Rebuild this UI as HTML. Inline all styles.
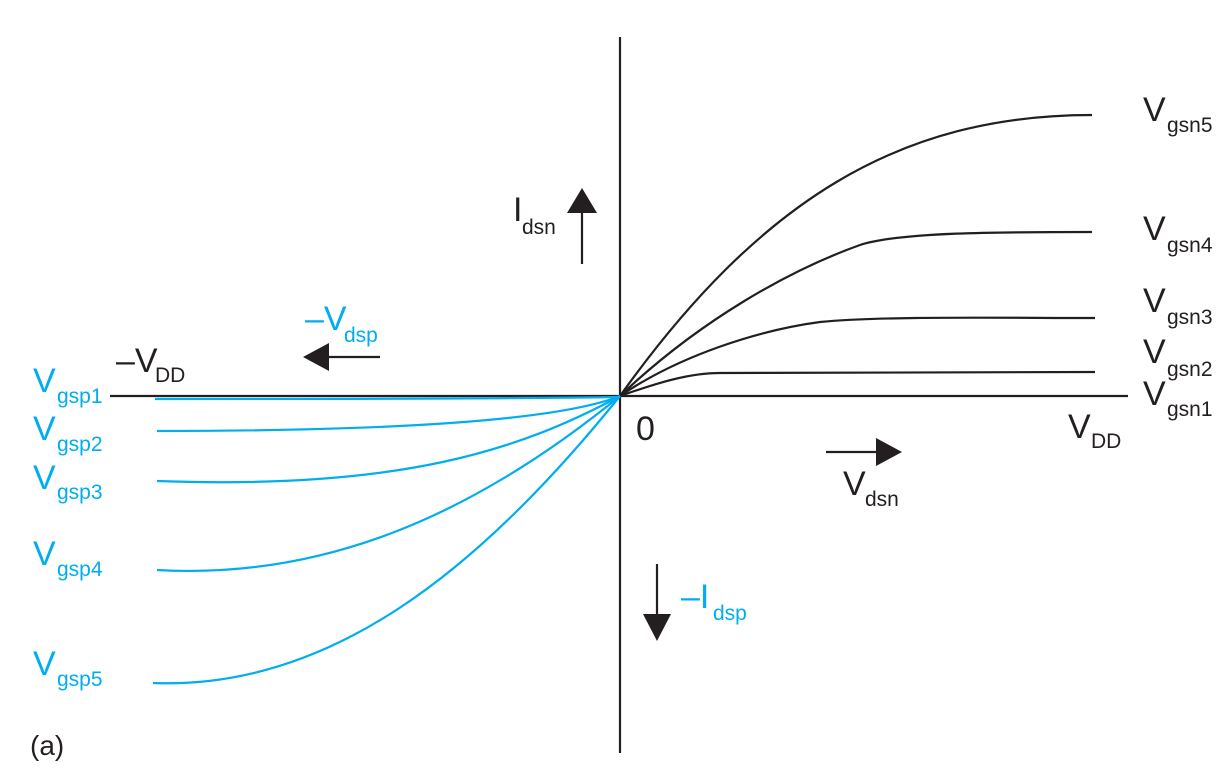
<!DOCTYPE html>
<html><head><style>
html,body{margin:0;padding:0;background:#fff;}
svg{display:block;}
text{font-family:"Liberation Sans",Arial,sans-serif;}
.b{fill:#231f20;} .c{fill:#00aeef;}
.m{font-size:34px;} .s{font-size:21px;}
</style></head><body>
<svg width="1228" height="782" viewBox="0 0 1228 782" xmlns="http://www.w3.org/2000/svg">
<g fill="none" stroke="#231f20" stroke-width="2.2">
<line x1="620" y1="37" x2="620" y2="753"/>
<line x1="110" y1="396" x2="1128" y2="396"/>
<path d="M620 396 C760 200 900 115 1092 115"/>
<path d="M620 396 C700 320 790 270 860 245 C900 232 1000 232 1092 232"/>
<path d="M620 396 C680 355 760 330 820 322 C880 316 1000 318 1095 318"/>
<path d="M620 396 C660 382 690 373 720 373 L1095 372"/>
<line x1="582" y1="264" x2="582" y2="205"/>
<line x1="380" y1="357" x2="320" y2="357"/>
<line x1="826" y1="452" x2="880" y2="452"/>
<line x1="657" y1="564" x2="657" y2="620"/>
</g>
<g fill="#231f20">
<polygon points="582,188 567,213 597,213"/>
<polygon points="303,357 329,343 329,371"/>
<polygon points="902,452 876,438 876,466"/>
<polygon points="657,641 643,614 671,614"/>
</g>
<g fill="none" stroke="#00aeef" stroke-width="2.2">
<path d="M620 397 C500 399 300 399 155 399"/>
<path d="M620 396 C560 420 400 431 157 431"/>
<path d="M620 396 C520 450 400 490 157 481"/>
<path d="M620 396 C480 510 330 580 157 570"/>
<path d="M620 396 C480 570 330 690 153 683"/>
</g>
<g class="b">
<text x="1143" y="121" class="m">V</text><text x="1167" y="132" class="s">gsn5</text>
<text x="1143" y="240" class="m">V</text><text x="1167" y="252" class="s">gsn4</text>
<text x="1143" y="312" class="m">V</text><text x="1167" y="324" class="s">gsn3</text>
<text x="1143" y="363" class="m">V</text><text x="1167" y="376" class="s">gsn2</text>
<text x="1143" y="405" class="m">V</text><text x="1167" y="416" class="s">gsn1</text>
<text x="1068" y="438" class="m">V</text><text x="1091" y="448" class="s">DD</text>
<text x="636" y="440" class="m">0</text>
<text x="843" y="495" class="m">V</text><text x="865" y="506" class="s">dsn</text>
<text x="116" y="372" class="m">–V</text><text x="155" y="382" class="s">DD</text>
<text x="513" y="221" class="m">I</text><text x="522" y="234" class="s">dsn</text>
<text x="30" y="755" style="font-size:28px">(a)</text>
</g>
<g class="c">
<text x="33" y="392" class="m">V</text><text x="57" y="403" class="s">gsp1</text>
<text x="33" y="440" class="m">V</text><text x="57" y="451" class="s">gsp2</text>
<text x="33" y="489" class="m">V</text><text x="57" y="499" class="s">gsp3</text>
<text x="33" y="565" class="m">V</text><text x="57" y="576" class="s">gsp4</text>
<text x="33" y="675" class="m">V</text><text x="57" y="686" class="s">gsp5</text>
<text x="305" y="330" class="m">–V</text><text x="344" y="342" class="s">dsp</text>
<text x="681" y="608" class="m">–I</text><text x="713" y="620" class="s">dsp</text>
</g>
</svg>
</body></html>
